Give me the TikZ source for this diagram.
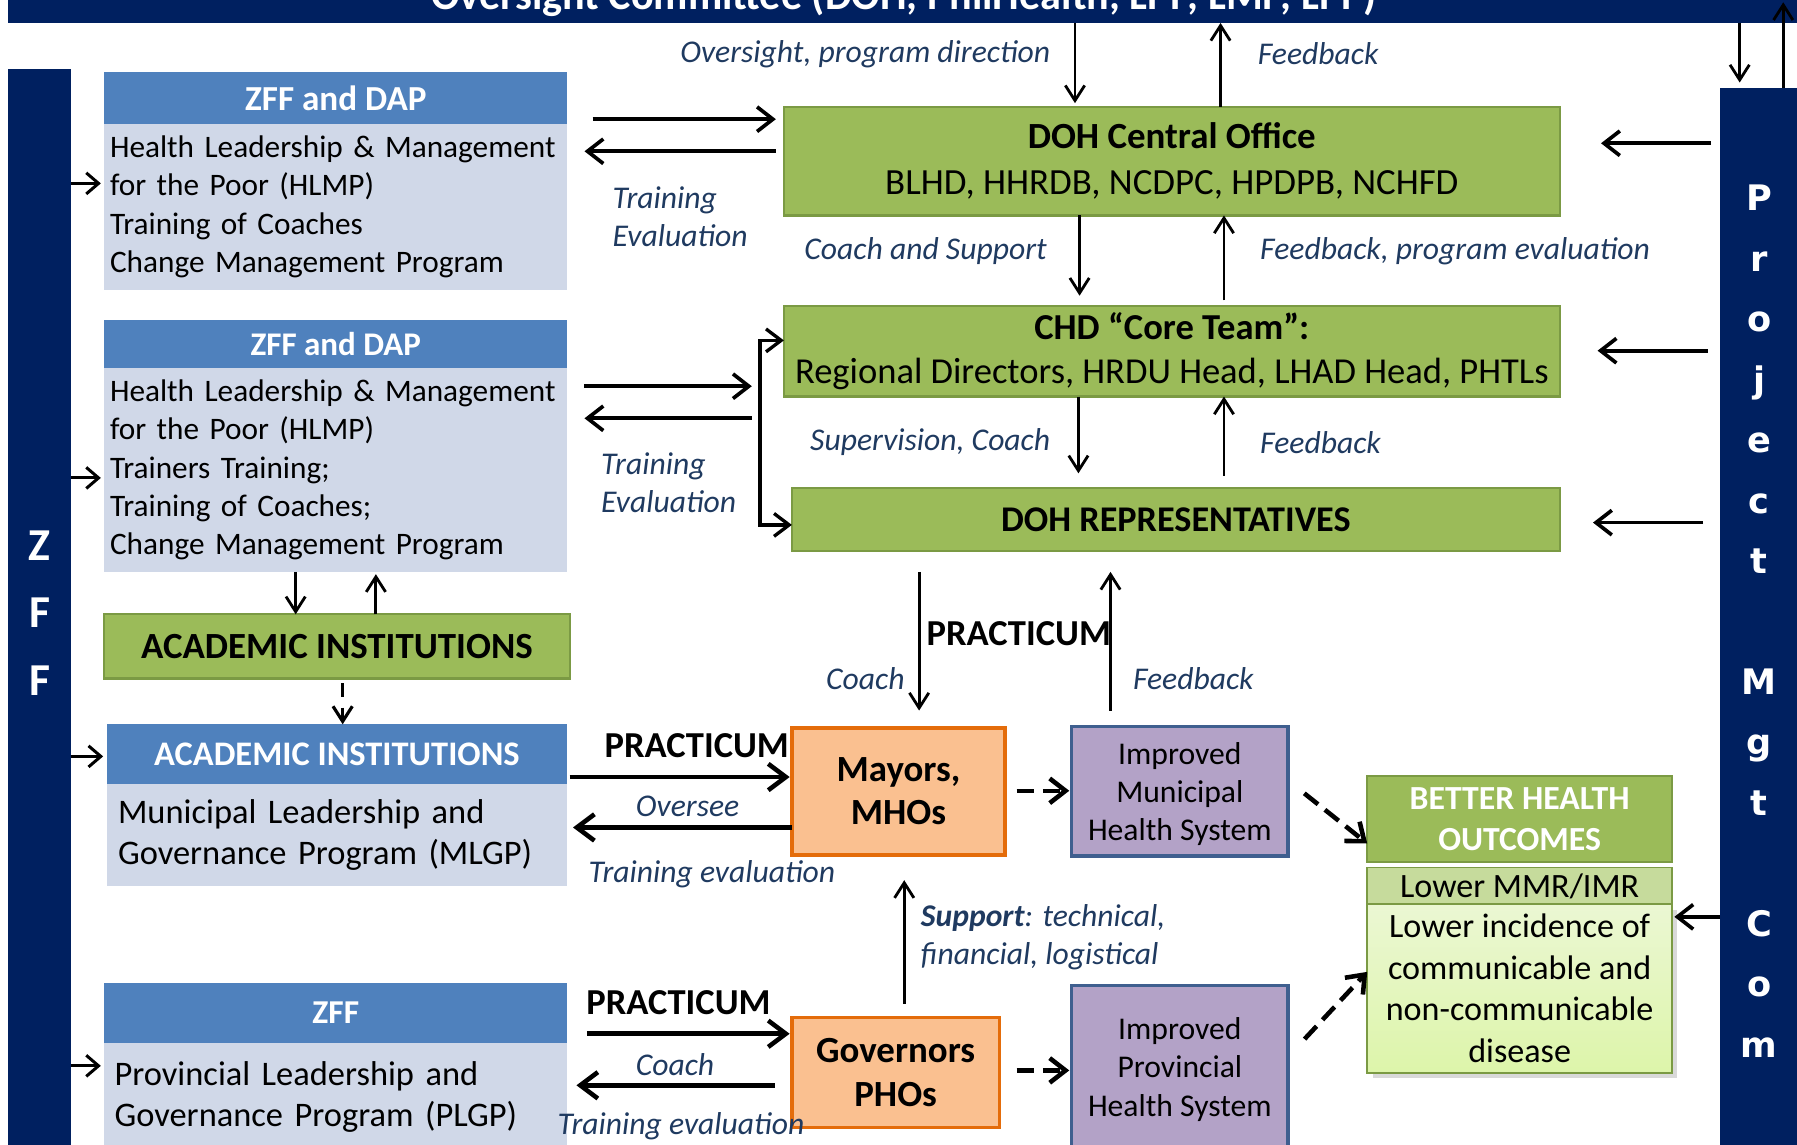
\documentclass[tikz,border=0pt]{standalone}
\usepackage{fontspec}
\setmainfont{Carlito}
\newfontfamily\pmfont{DejaVu Sans}
\usetikzlibrary{arrows.meta,positioning,shadows}
\definecolor{navy}{HTML}{002060}
\definecolor{hdrblue}{HTML}{4F81BD}
\definecolor{bodyblue}{HTML}{D0D8E8}
\definecolor{boxgreen}{HTML}{9BBB59}
\definecolor{boxgreenline}{HTML}{7B9A44}
\definecolor{mayorfill}{HTML}{FAC090}
\definecolor{mayorline}{HTML}{E46C0A}
\definecolor{hsfill}{HTML}{B3A2C7}
\definecolor{hsline}{HTML}{3F5F8F}
\definecolor{mmrband}{HTML}{C6DB9C}
\definecolor{outtop}{HTML}{EBF7D3}
\definecolor{outbot}{HTML}{DDF5AA}
\definecolor{lblblue}{HTML}{1F3A60}
\newdimen\pxu \pxu=0.1146mm

\begin{document}
\begin{tikzpicture}[x=0.1146mm,y=-0.1146mm,
  box/.style={anchor=north west,inner sep=0pt,outer sep=0pt,align=center},
  hdr/.style={box,fill=hdrblue,text=white},
  bodybox/.style={box,fill=bodyblue,inner ysep=0pt,align=left},
  greenbox/.style={box,fill=boxgreen,draw=boxgreenline,line width=0.6pt},
  orangebox/.style={box,fill=mayorfill,draw=mayorline,line width=1pt},
  purplebox/.style={box,fill=hsfill,draw=hsline,line width=1pt,text depth=0pt},
  lbl/.style={font=\fontsize{9}{10.8}\selectfont\itshape,text=lblblue,inner sep=0pt},
  prac/.style={font=\fontsize{10.4}{12}\selectfont\bfseries,inner sep=0pt},
  thinarr/.style={-{Straight Barb[length=4.3pt,width=5.5pt]},line width=0.8pt},
  medarr/.style={-{Straight Barb[length=4.5pt,width=7pt]},line width=1.05pt},
  thickarr/.style={-{Straight Barb[length=5pt,width=7.5pt]},line width=1.3pt},
  inarr/.style={-{Straight Barb[length=3.5pt,width=6pt]},line width=0.85pt},
  dasharr/.style={-{Straight Barb[length=4.5pt,width=7pt]},line width=1.3pt,dash pattern=on 5pt off 2.5pt}]
  \useasboundingbox (0,0) rectangle (1568,999);

  % side bars and top banner
  \node[box,fill=navy,minimum width=1600*\pxu,minimum height=60*\pxu] (banner) at (7,-40) {};
  \node[anchor=base,text=white,font=\fontsize{12}{14}\selectfont\bfseries] (title) at (789,8)
    {Oversight Committee (DOH, PhilHealth, LPP, LMP, LPP)};
  \node[box,fill=navy,minimum width=55*\pxu,minimum height=950*\pxu,text=white,
    font=\fontsize{13}{19.2}\selectfont\bfseries] (zff) at (7,60) {Z\\F\\F};
  \node[box,fill=navy,minimum width=68*\pxu,minimum height=930*\pxu,text=white,
    font=\pmfont\fontsize{10}{17.2}\selectfont\bfseries] (pm) at (1501,77)
    {P\\r\\o\\j\\e\\c\\t\\[17.2pt]M\\g\\t\\[17.2pt]C\\o\\m};

  % training programmes (left)
  \node[hdr,minimum width=404*\pxu,minimum height=45*\pxu,font=\fontsize{10}{12}\selectfont\bfseries] (a1hdr) at (91,63) {ZFF and DAP};
  \node[bodybox,below=0pt of a1hdr,minimum height=145*\pxu,inner xsep=5*\pxu,text width=394*\pxu,
    font=\fontsize{8.9}{10.9}\selectfont] (a1body)
    {Health Leadership \& Management\\for the Poor (HLMP)\\Training of Coaches\\Change Management Program};
  \node[hdr,minimum width=404*\pxu,minimum height=42*\pxu,font=\fontsize{9.4}{12}\selectfont\bfseries] (a2hdr) at (91,279) {ZFF and DAP};
  \node[bodybox,below=0pt of a2hdr,minimum height=178*\pxu,inner xsep=5*\pxu,text width=394*\pxu,
    font=\fontsize{8.9}{10.9}\selectfont] (a2body)
    {Health Leadership \& Management\\for the Poor (HLMP)\\Trainers Training;\\Training of Coaches;\\Change Management Program};
  \node[greenbox,minimum width=406*\pxu,minimum height=56*\pxu,font=\fontsize{10.5}{12}\selectfont\bfseries] (acad) at (91,536) {ACADEMIC INSTITUTIONS};
  \node[hdr,minimum width=402*\pxu,minimum height=52*\pxu,font=\fontsize{9.8}{12}\selectfont\bfseries] (bhdr) at (93,632) {ACADEMIC INSTITUTIONS};
  \node[bodybox,below=0pt of bhdr,minimum height=89*\pxu,inner xsep=10*\pxu,text width=382*\pxu,
    font=\fontsize{9.8}{11.6}\selectfont] (bbody)
    {Municipal Leadership and\\Governance Program (MLGP)};
  \node[hdr,minimum width=404*\pxu,minimum height=52*\pxu,font=\fontsize{9.5}{12}\selectfont\bfseries] (chdr) at (91,858) {ZFF};
  \node[bodybox,below=0pt of chdr,minimum height=95*\pxu,inner xsep=9*\pxu,text width=386*\pxu,
    font=\fontsize{9.8}{11.6}\selectfont] (cbody)
    {Provincial Leadership and\\Governance Program (PLGP)};

  % DOH chain
  \node[greenbox,minimum width=677*\pxu,minimum height=95*\pxu,font=\fontsize{10.5}{13}\selectfont] (dohco) at (684,93)
    {\bfseries DOH Central Office\\BLHD, HHRDB, NCDPC, HPDPB, NCHFD};
  \node[greenbox,minimum width=677*\pxu,minimum height=79*\pxu,font=\fontsize{10.4}{12.4}\selectfont] (chd) at (684,267)
    {\bfseries CHD “Core Team”:\\Regional Directors, HRDU Head, LHAD Head, PHTLs};
  \node[greenbox,minimum width=670*\pxu,minimum height=55*\pxu,font=\fontsize{10.3}{12}\selectfont\bfseries] (rep) at (691,426)
    {DOH REPRESENTATIVES};

  % local leaders and health systems
  \node[orangebox,minimum width=186*\pxu,minimum height=111*\pxu,font=\fontsize{10.5}{12.4}\selectfont\bfseries] (mayors) at (691,635) {Mayors,\\MHOs};
  \node[orangebox,minimum width=181*\pxu,minimum height=96*\pxu,font=\fontsize{10.5}{12.7}\selectfont\bfseries] (govs) at (691,888) {Governors\\PHOs};
  \node[purplebox,minimum width=189*\pxu,minimum height=113*\pxu,font=\fontsize{9}{10.9}\selectfont] (imun) at (935,634) {Improved\\Municipal\\Health System};
  \node[purplebox,minimum width=189*\pxu,minimum height=142*\pxu,font=\fontsize{9}{10.9}\selectfont] (iprov) at (935,860) {Improved\\Provincial\\Health System};

  % outcomes
  \node[box,fill=boxgreen,draw=boxgreenline,line width=0.5pt,
    minimum width=266*\pxu,minimum height=75*\pxu,text=white,font=\fontsize{9.6}{11.7}\selectfont\bfseries] (bhohdr) at (1193,677)
    {BETTER HEALTH\\OUTCOMES};
  \node[box,fill=mmrband,draw=boxgreenline,line width=0.5pt,minimum width=266*\pxu,minimum height=32*\pxu,
    font=\fontsize{9.7}{11.7}\selectfont] (bhommr) at (1193,757) {Lower MMR/IMR};
  \node[box,top color=outtop,bottom color=outbot,draw=boxgreenline,line width=0.5pt,
    drop shadow={opacity=0.3,shadow xshift=1.5pt,shadow yshift=-1.5pt},
    minimum width=266*\pxu,minimum height=147*\pxu,font=\fontsize{9.7}{11.8}\selectfont] (bhobody) at (1193,789)
    {Lower incidence of\\communicable and\\non-communicable\\disease};

  \coordinate (brk) at (663,0);

  % connectors
  \draw[thinarr,shorten >=3*\pxu] (938,0 |- banner.south) -- (938,0 |- dohco.north);
  \draw[thinarr] (1065,0 |- dohco.north) -- (1065,0 |- banner.south);
  \draw[thinarr,shorten >=5*\pxu] (1518,0 |- banner.south) -- (1518,0 |- pm.north);
  \draw[thinarr,shorten >=-18*\pxu] (1556,0 |- pm.north) -- (1556,0 |- banner.south);
  \draw[medarr,shorten <=22*\pxu,shorten >=7*\pxu] (a1body.east |- 0,104) -- (dohco.west |- 0,104);
  \draw[medarr,shorten <=7*\pxu,shorten >=15*\pxu] (dohco.west |- 0,132) -- (a1body.east |- 0,132);
  \draw[thinarr,shorten >=9*\pxu] (942,0 |- dohco.south) -- (942,0 |- chd.north);
  \draw[thinarr,shorten <=5*\pxu] (1068,0 |- chd.north) -- (1068,0 |- dohco.south);
  \draw[medarr,shorten <=8*\pxu,shorten >=36*\pxu] (pm.west |- 0,125) -- (dohco.east |- 0,125);
  \draw[medarr,shorten <=11*\pxu,shorten >=33*\pxu] (pm.west |- 0,306) -- (chd.east |- 0,306);
  \draw[medarr,shorten <=15*\pxu,shorten >=29*\pxu] (pm.west |- 0,456) -- (rep.east |- 0,456);
  \draw[medarr,shorten >=2*\pxu] (pm.west |- 0,800) -- (bhobody.east |- 0,800);
  \draw[medarr,shorten <=15*\pxu,shorten >=7*\pxu] (a2body.east |- 0,337) -- (brk |- 0,337);
  \draw[medarr,shorten <=7*\pxu,shorten >=15*\pxu] (brk |- 0,365) -- (a2body.east |- 0,365);
  \draw[{Straight Barb[length=4.3pt,width=6.5pt]}-{Straight Barb[length=4.3pt,width=6.5pt]},line width=0.95pt]
    (chd.west |- 0,297) -- (brk |- 0,297) -- (brk |- 0,458) -- (rep.west |- 0,458);
  \draw[thinarr,shorten >=13*\pxu] (941,0 |- chd.south) -- (941,0 |- rep.north);
  \draw[thinarr,shorten <=11*\pxu] (1068,0 |- rep.north) -- (1068,0 |- chd.south);
  \draw[thinarr,shorten <=18*\pxu,shorten >=15*\pxu] (802,0 |- rep.south) -- (802,0 |- mayors.north);
  \draw[thinarr,shorten <=14*\pxu,shorten >=18*\pxu] (969,0 |- imun.north) -- (969,0 |- rep.south);
  \draw[thickarr,shorten <=2*\pxu,shorten >=2*\pxu] (bhdr.east |- 0,678) -- (mayors.west |- 0,678);
  \draw[thickarr,shorten >=5*\pxu] (mayors.west |- 0,722) -- (bbody.east |- 0,722);
  \draw[thickarr,shorten <=17*\pxu,shorten >=2*\pxu] (chdr.east |- 0,902) -- (govs.west |- 0,902);
  \draw[thickarr,shorten <=15*\pxu,shorten >=8*\pxu] (govs.west |- 0,947) -- (cbody.east |- 0,947);
  \draw[thinarr,shorten <=12*\pxu,shorten >=22*\pxu] (789,0 |- govs.north) -- (789,0 |- mayors.south);
  \draw[dasharr,shorten <=10*\pxu,shorten >=2*\pxu] (mayors.east |- 0,690) -- (imun.west |- 0,690);
  \draw[dasharr,shorten <=15*\pxu,shorten >=2*\pxu] (govs.east |- 0,934) -- (iprov.west |- 0,934);
  \draw[dasharr,shorten <=18*\pxu] (imun.east |- 0,681) -- (bhohdr.west |- 0,736);
  \draw[dasharr,shorten <=21*\pxu] (iprov.east |- 0,922) -- (bhobody.west |- 0,848);
  \draw[inarr,shorten >=3*\pxu] (zff.east |- 0,160) -- (a1body.west |- 0,160);
  \draw[inarr,shorten >=3*\pxu] (zff.east |- 0,417) -- (a2body.west |- 0,417);
  \draw[inarr,shorten >=3*\pxu] (zff.east |- 0,660) -- (bhdr.west |- 0,660);
  \draw[inarr,shorten >=3*\pxu] (zff.east |- 0,930) -- (cbody.west |- 0,930);
  \draw[thinarr] (258,0 |- a2body.south) -- (258,0 |- acad.north);
  \draw[thinarr,shorten >=2*\pxu] (328,0 |- acad.north) -- (328,0 |- a2body.south);
  \draw[thinarr,dash pattern=on 4pt off 3pt,line width=0.9pt,shorten <=4*\pxu] (299,0 |- acad.south) -- (299,0 |- bhdr.north);

  % labels
  \node[lbl,anchor=east] (lovs) at (917,47) {Oversight, program direction};
  \node[lbl,anchor=west] (lfb1) at (1097,47) {Feedback};
  \node[lbl,anchor=west,align=left] (ltr1) at (534,189) {Training\\Evaluation};
  \node[lbl,anchor=east] (lcs) at (914,219) {Coach and Support};
  \node[lbl,anchor=west] (lfpe) at (1099,219) {Feedback, program evaluation};
  \node[lbl,anchor=west,align=left] (ltr2) at (524,421) {Training\\Evaluation};
  \node[lbl,anchor=east] (lsup) at (917,386) {Supervision, Coach};
  \node[lbl,anchor=west] (lfb2) at (1099,386) {Feedback};
  \node[prac,anchor=west] (lpr1) at (808,553) {PRACTICUM};
  \node[lbl,anchor=east] (lco1) at (790,592) {Coach};
  \node[lbl,anchor=west] (lfb3) at (988,592) {Feedback};
  \node[prac,anchor=west] (lpr2) at (527,651) {PRACTICUM};
  \node[lbl] (lovr) at (600,704) {Oversee};
  \node[lbl,anchor=west] (lte1) at (513,763) {Training evaluation};
  \node[prac,anchor=west] (lpr3) at (511,875) {PRACTICUM};
  \node[lbl] (lco2) at (589,929) {Coach};
  \node[lbl,anchor=west] (lte2) at (486,983) {Training evaluation};
  \node[lbl,anchor=west,align=left] (lsupp) at (803,818) {\textbf{Support}: technical,\\financial, logistical};
\end{tikzpicture}
\end{document}
